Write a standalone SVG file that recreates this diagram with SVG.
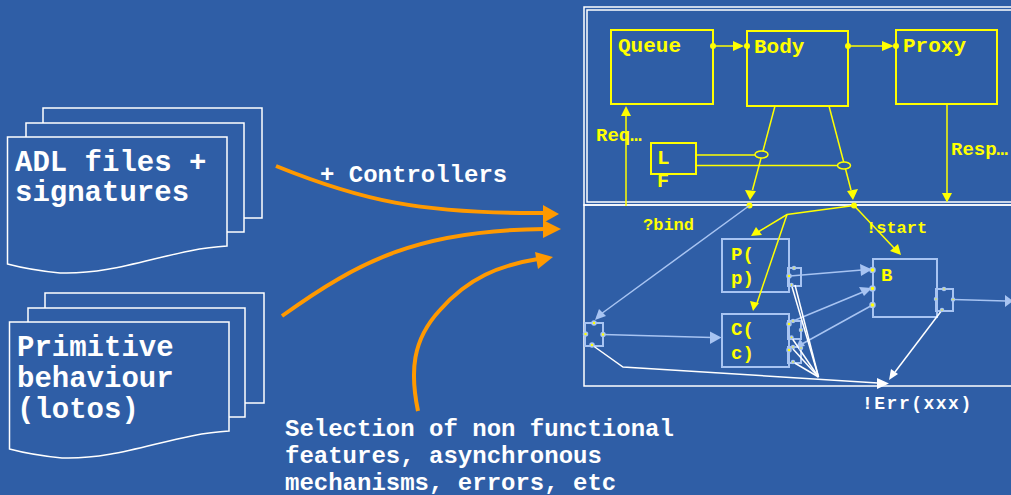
<svg xmlns="http://www.w3.org/2000/svg" width="1011" height="495" viewBox="0 0 1011 495">
<defs>
<style>
.doc{fill:#2F5EA6;stroke:#FFFFFF;stroke-width:1.5}
.dt{font-family:"Liberation Mono","Courier New",monospace;font-weight:bold;fill:#FFFFFF}
.yt{font-family:"Liberation Mono","Courier New",monospace;font-weight:bold;fill:#FFFF00}
.ybox{fill:none;stroke:#FFFF00;stroke-width:2}
.bbox{fill:none;stroke:#A8C4F2;stroke-width:2}
.yl{fill:none;stroke:#FFFF00;stroke-width:1.5}
.bl{fill:none;stroke:#A8C4F2;stroke-width:1.5}
.wl{fill:none;stroke:#FFFFFF;stroke-width:1.5}
.frame{fill:none;stroke:#FFFFFF;stroke-width:1.5}
.or{fill:none;stroke:#FF9900;stroke-width:4}
.orh{fill:#FF9900}
.yh{fill:#FFFF00}
.bh{fill:#A8C4F2}
.wh{fill:#FFFFFF}
.pd{fill:#FFFF00;stroke:#A8C4F2;stroke-width:1.5}
</style>
</defs>
<rect width="1011" height="495" fill="#2F5EA6"/>

<!-- frames -->
<g id="frames">
<rect x="584" y="7" width="440" height="198" class="frame"/>
<rect x="587" y="10" width="440" height="192" class="frame"/>
<rect x="584" y="205" width="440" height="181" class="frame"/>
</g>

<!-- documents -->
<g id="doc-adl">
<rect x="43" y="108" width="219" height="110" class="doc"/>
<rect x="26" y="123" width="218" height="109" class="doc"/>
<path d="M7.5,137 H227 V246 C170,249 120,275 60,273 Q30,270 7.5,264 Z" class="doc"/>
<text class="dt" font-size="29" x="15" y="171">ADL files +</text>
<text class="dt" font-size="29" x="15" y="201">signatures</text>
</g>
<g id="doc-lotos">
<rect x="45" y="293" width="219" height="110" class="doc"/>
<rect x="28" y="308" width="217" height="109" class="doc"/>
<path d="M9.5,322 H229 V431 C172,434 122,460 62,458 Q32,455 9.5,449 Z" class="doc"/>
<text class="dt" font-size="29" x="17" y="356">Primitive</text>
<text class="dt" font-size="29" x="17" y="387">behaviour</text>
<text class="dt" font-size="29" x="17" y="418">(lotos)</text>
</g>

<!-- orange arrows -->
<g id="orange-arrows">
<path d="M276,166 C360,200 420,214 545,213" class="or"/>
<polygon points="543,205 559,214 543,223" class="orh"/>
<path d="M282,316 C360,260 420,230 545,229" class="or"/>
<polygon points="543,220 561,229 543,238" class="orh"/>
<path d="M418,411 C410,372 412,340 440,310 C468,278 500,265 538,259" class="or"/>
<polygon points="535,252 553,257 538,269" class="orh"/>
<text class="dt" font-size="24" x="320" y="182">+ Controllers</text>
<text class="dt" font-size="24" x="285" y="436">Selection of non functional</text>
<text class="dt" font-size="24" x="285" y="463">features, asynchronous</text>
<text class="dt" font-size="24" x="285" y="490">mechanisms, errors, etc</text>
</g>

<!-- top nodes -->
<g id="queue"><rect x="611" y="30" width="102" height="74" class="ybox"/><text class="yt" font-size="21" x="618" y="52">Queue</text></g>
<g id="body"><rect x="747" y="31" width="101" height="75" class="ybox"/><text class="yt" font-size="21" x="754" y="53">Body</text></g>
<g id="proxy"><rect x="896" y="30" width="101" height="74" class="ybox"/><text class="yt" font-size="21" x="903" y="52">Proxy</text></g>
<g id="lf"><rect x="651" y="143" width="45" height="31" class="ybox"/><text class="yt" font-size="21" x="657" y="164">L</text><text class="yt" font-size="20" x="657" y="187">F</text></g>

<!-- bottom nodes -->
<g id="p"><rect x="722" y="239" width="67" height="53" class="bbox"/><text class="yt" font-size="19" x="731" y="260">P(</text><text class="yt" font-size="19" x="731" y="284">p)</text>
<rect x="788" y="268" width="13" height="18" class="bbox"/></g>
<g id="c"><rect x="722" y="314" width="67" height="53" class="bbox"/><text class="yt" font-size="19" x="731" y="335">C(</text><text class="yt" font-size="19" x="731" y="359">c)</text>
<rect x="788" y="321" width="13" height="18" class="bbox"/>
<rect x="788" y="347" width="13" height="16" class="bbox"/></g>
<g id="b"><rect x="873" y="259" width="64" height="58" class="bbox"/><text class="yt" font-size="19" x="881" y="281">B</text>
<rect x="936" y="289" width="17" height="22" class="bbox"/></g>
<g id="port-left"><rect x="585" y="323" width="18" height="23" class="bbox"/></g>

<!-- connectors -->
<g id="connectors">
<!-- top yellow -->
<line x1="713" y1="46" x2="734" y2="46" class="yl"/>
<polygon points="733,41 744,46 733,51" class="yh"/>
<circle cx="713" cy="46" r="3" class="yh"/><circle cx="747" cy="46" r="3" class="yh"/>
<line x1="848" y1="46" x2="883" y2="46" class="yl"/>
<polygon points="882,41 894,46 882,51" class="yh"/>
<circle cx="848" cy="46" r="3" class="yh"/><circle cx="896" cy="46" r="3" class="yh"/>
<line x1="626" y1="206" x2="626" y2="114" class="yl"/>
<polygon points="621,116 626,106 631,116" class="yh"/>
<text class="yt" font-size="19" x="596" y="141">Req…</text>
<line x1="947" y1="104" x2="947" y2="194" class="yl"/>
<polygon points="942,193 947,202.5 952,193" class="yh"/>
<text class="yt" font-size="19" x="951" y="155">Resp…</text>
<line x1="696" y1="155" x2="755" y2="155" class="yl"/>
<line x1="696" y1="165.5" x2="838" y2="165.5" class="yl"/>
<line x1="775" y1="106" x2="752.5" y2="190" class="yl"/>
<polygon points="745,190 750,200 756,191" class="yh"/>
<ellipse cx="761.5" cy="154.5" rx="6.5" ry="3.5" fill="#2F5EA6" stroke="#FFFF00" stroke-width="1.5"/>
<line x1="829" y1="106" x2="851" y2="190" class="yl"/>
<polygon points="847,191 853,200 858,189" class="yh"/>
<ellipse cx="844" cy="165.5" rx="6.5" ry="3.5" fill="#2F5EA6" stroke="#FFFF00" stroke-width="1.5"/>
<!-- lower yellow -->
<circle cx="749.5" cy="205.5" r="3" class="yh"/>
<circle cx="854" cy="205.5" r="3" class="yh"/>
<polyline points="854,205.5 787,214.5 758,232" class="yl"/>
<polygon points="751,236 756,227 762,235" class="yh"/>
<line x1="787" y1="214.5" x2="757" y2="303" class="yl"/>
<polygon points="753,311 750,301 759,303" class="yh"/>
<line x1="854" y1="205.5" x2="894" y2="248" class="yl"/>
<polygon points="901,255 890,251 898,244" class="yh"/>
<text class="yt" font-size="17" x="643" y="230">?bind</text>
<text class="yt" font-size="17" x="866" y="233">!start</text>
<!-- light blue -->
<line x1="749.5" y1="205.5" x2="601" y2="314" class="bl"/>
<polygon points="595,320 599,309 606,316" class="bh"/>
<line x1="603" y1="334.5" x2="712" y2="337.5" class="bl"/>
<polygon points="710,331.5 721.5,337.5 710,344" class="bh"/>
<line x1="790" y1="276" x2="862" y2="270" class="bl"/>
<polygon points="860,264 872,269.5 861,276" class="bh"/>
<line x1="793" y1="321" x2="863" y2="292" class="bl"/>
<polygon points="859,287 872,288 864,296" class="bh"/>
<line x1="872.5" y1="305" x2="802" y2="344" class="bl"/>
<polygon points="796,347.5 800,339 805,346" class="bh"/>
<line x1="953" y1="299.5" x2="1006" y2="301" class="bl"/>
<polygon points="1005,295 1013,301 1005,307" class="bh"/>
<!-- white -->
<line x1="942" y1="310" x2="895" y2="372" class="wl"/>
<polygon points="889,380 891,369 898,374" class="wh"/>
<polyline points="592,345 623,367 878,383" class="wl"/>
<polygon points="877,378 889,383.5 877,389" class="wh"/>
<line x1="791.5" y1="285" x2="818.5" y2="377" class="wl"/>
<line x1="795" y1="285" x2="818.5" y2="377" class="wl"/>
<line x1="791.5" y1="337.5" x2="818.5" y2="377" class="wl"/>
<line x1="793" y1="349" x2="818.5" y2="377" class="wl"/>
<line x1="793" y1="362" x2="818.5" y2="377" class="wl"/>
<text class="dt" font-size="18" x="862" y="409" letter-spacing="1.5">!Err(xxx)</text>
<!-- dots -->
<circle cx="594" cy="323" r="2" class="pd"/><circle cx="585.5" cy="334" r="2" class="pd"/><circle cx="603" cy="334.5" r="2" class="pd"/><circle cx="592" cy="345" r="2" class="pd"/>
<circle cx="789" cy="276" r="2" class="pd"/><circle cx="794" cy="268" r="1.5" class="pd"/><circle cx="791.5" cy="285" r="1.5" class="pd"/>
<circle cx="789" cy="324" r="2" class="pd"/><circle cx="793" cy="321" r="1.5" class="pd"/><circle cx="791.5" cy="337.5" r="1.5" class="pd"/><circle cx="801" cy="330" r="1.5" class="pd"/>
<circle cx="789" cy="350" r="2" class="pd"/><circle cx="793" cy="347" r="1.5" class="pd"/><circle cx="793" cy="362" r="1.5" class="pd"/><circle cx="801" cy="348" r="1.5" class="pd"/>
<circle cx="872.5" cy="270" r="2.5" class="pd"/><circle cx="872.5" cy="288.5" r="2.5" class="pd"/><circle cx="872.5" cy="305" r="2.5" class="pd"/>
<circle cx="944" cy="289" r="1.5" class="pd"/><circle cx="936" cy="299" r="1.5" class="pd"/><circle cx="953" cy="299.5" r="1.5" class="pd"/><circle cx="942" cy="310" r="1.5" class="pd"/>
</g>
</svg>
